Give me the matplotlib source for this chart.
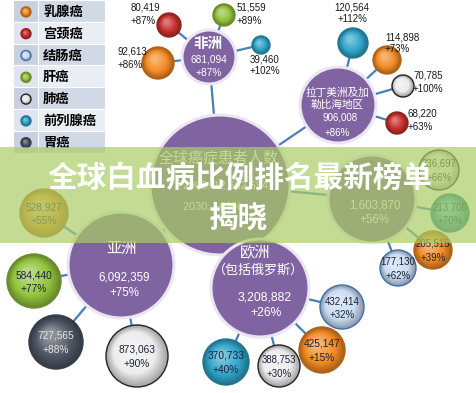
import numpy as np
import matplotlib
matplotlib.use("Agg")
from matplotlib import pyplot as plt
from matplotlib import font_manager
from matplotlib.patches import Circle, Rectangle
from matplotlib.colors import to_rgb

# ---- data ----
cancers = ['乳腺癌', '宫颈癌', '结肠癌', '肝癌', '肺癌', '前列腺癌', '胃癌']
cancer_colors = ['#f28a24', '#c8312e', '#c9dcf3', '#93c33c', '#ececec', '#2fa4c9', '#4d5563']
cancer_edges = [None, None, '#3f6faa', None, '#222222', None, None]

continents = ['亚洲', '欧洲', '北美洲', '拉丁美洲及加\n勒比海地区', '非洲']
cont_values = ['6,092,359', '3,208,882', '1,603,870', '906,008', '681,094']
cont_growth = ['+75%', '+26%', '+56%', '+86%', '+87%']

center_title = '全球癌症患者人数'
center_lines = ['2008: 12,662,554', '2030: +69%']

sat_parent = [0, 0, 0, 0, 1, 1, 1, 1, 2, 2, 2, 2, 3, 3, 3, 3, 4, 4, 4, 4]
sat_cancer = ['乳腺癌', '肝癌', '胃癌', '肺癌',
              '前列腺癌', '肺癌', '乳腺癌', '结肠癌',
              '肺癌', '前列腺癌', '乳腺癌', '结肠癌',
              '前列腺癌', '乳腺癌', '肺癌', '宫颈癌',
              '宫颈癌', '乳腺癌', '肝癌', '前列腺癌']
sat_values = ['528,927', '584,440', '727,565', '873,063',
              '370,733', '388,753', '425,147', '432,414',
              '236,697', '213,705', '205,515', '177,130',
              '120,564', '114,898', '70,785', '68,220',
              '80,419', '92,613', '51,559', '39,460']
sat_growth = ['+55%', '+77%', '+88%', '+90%',
              '+40%', '+30%', '+15%', '+32%',
              '+66%', '+70%', '+39%', '+62%',
              '+112%', '+73%', '+100%', '+63%',
              '+87%', '+86%', '+89%', '+102%']

title1 = '全球白血病比例排名最新榜单'
title2 = '揭晓'

# ---- layout (pixel space) ----
center_xy = (220, 185)
center_r = 70
cont_xy = [(121, 265), (260, 288), (372, 199), (338, 105), (209, 57)]
cont_r = [53, 49, 44, 38, 27]
sat_xy = [(44, 213), (34, 281), (56, 342), (137, 356),
          (226, 362), (279, 366), (322, 350), (342, 307),
          (439, 170), (450, 213), (433, 250), (398, 268),
          (353, 43), (387, 60), (403, 86), (397, 123),
          (169, 25), (158, 63), (224, 15), (261, 45)]
sat_r = [24, 27, 27, 31, 23, 21, 23, 22, 20, 19, 19, 18,
         15, 14, 11, 11, 12, 16, 11, 9]
# outside labels: (x, y of first line, ha); None = inside bubble
sat_label = [None] * 12 + [(352, 7, 'center'), (385, 37, 'left'), (413, 76, 'left'),
                           (408, 114, 'left'), (131, 8, 'left'), (118, 52, 'left'),
                           (237, 8, 'left'), (250, 59, 'left')]

names = {f.name for f in font_manager.fontManager.ttflist}
if 'Liberation Sans Narrow' in names:
    NUM = 'Liberation Sans Narrow'
    k = 1.0
else:
    NUM = 'Liberation Sans'
    k = 0.83
CJK = 'Noto Sans CJK SC'
plt.rcParams['font.family'] = [CJK, 'DejaVu Sans']

PURPLE = '#8064a2'
LINE = '#4a7dba'

fig = plt.figure(figsize=(4.76, 3.93), dpi=100)
ax = fig.add_axes([0, 0, 1, 1])
ax.set_xlim(0, 476)
ax.set_ylim(393, 0)
ax.axis('off')


def sphere(x, y, r, color, edge=None, z=3):
    base = np.array(to_rgb(color))
    dark = base * 0.72
    ax.add_patch(Circle((x, y), r, fc=dark, ec=edge if edge else dark, lw=1.0, zorder=z))
    n = 14
    for i in range(1, n):
        t = i / n
        rr = r * (1 - 0.8 * t) - 0.6
        cx = x - 0.22 * r * t
        cy = y - 0.28 * r * t
        if t < 0.35:
            c = dark + (base - dark) * (t / 0.35)
        else:
            c = base + (np.ones(3) - base) * (t - 0.35) * 0.6
        ax.add_patch(Circle((cx, cy), rr, fc=c, ec='none', zorder=z))


# connector lines
for (x, y) in cont_xy:
    ax.plot([center_xy[0], x], [center_xy[1], y], color=LINE, lw=1.6, zorder=1)
for i, p in enumerate(sat_parent):
    ax.plot([cont_xy[p][0], sat_xy[i][0]], [cont_xy[p][1], sat_xy[i][1]],
            color=LINE, lw=1.6, zorder=1)

# center circle
ax.add_patch(Circle(center_xy, center_r, fc=PURPLE, ec='#ece6f3', lw=2.2, zorder=2))
ax.text(219, 158, center_title, color='white', fontsize=10.8, ha='center', va='center', zorder=3)
for j, s in enumerate(center_lines):
    ax.text(183, 185 + 22 * j, s, color='white', fontsize=9.5 * k, family=[NUM, CJK],
            ha='left', va='center', zorder=3)

# continent circles
for i, (x, y) in enumerate(cont_xy):
    ax.add_patch(Circle((x, y), cont_r[i], fc=PURPLE, ec='#ece6f3', lw=2.2, zorder=2))

ax.text(122, 248, continents[0], color='white', fontsize=11, ha='center', va='center', zorder=3)
ax.text(124, 277, cont_values[0], color='white', fontsize=10 * k, family=NUM, ha='center', va='center', zorder=3)
ax.text(124, 293, cont_growth[0], color='white', fontsize=10 * k, family=NUM, ha='center', va='center', zorder=3)

ax.text(255, 253, continents[1], color='white', fontsize=11, ha='center', va='center', zorder=3)
ax.text(258, 270, '（包括俄罗斯）', color='white', fontsize=9.4, ha='center', va='center', zorder=3)
ax.text(265, 298, cont_values[1], color='white', fontsize=10.5 * k, family=NUM, ha='center', va='center', zorder=3)
ax.text(266, 313, cont_growth[1], color='white', fontsize=10.5 * k, family=NUM, ha='center', va='center', zorder=3)

# north america name sits under the title band in the reference, so only numbers are drawn
ax.text(375, 205, cont_values[2], color='white', fontsize=10 * k, family=NUM, ha='center', va='center', zorder=3)
ax.text(374, 220, cont_growth[2], color='white', fontsize=10 * k, family=NUM, ha='center', va='center', zorder=3)

ax.text(337, 99, continents[3], color='white', fontsize=7.7, ha='center', va='center',
        linespacing=1.25, zorder=3)
ax.text(340, 118, cont_values[3], color='white', fontsize=8.5 * k, family=NUM, ha='center', va='center', zorder=3)
ax.text(337, 133, cont_growth[3], color='white', fontsize=8.5 * k, family=NUM, ha='center', va='center', zorder=3)

ax.text(208, 43, continents[4], color='white', fontsize=10.5, weight='bold', ha='center', va='center', zorder=3)
ax.text(209, 59, cont_values[4], color='white', fontsize=8.8 * k, family=NUM, ha='center', va='center', zorder=3)
ax.text(209, 73, cont_growth[4], color='white', fontsize=8.8 * k, family=NUM, ha='center', va='center', zorder=3)

# satellite bubbles
for i, (x, y) in enumerate(sat_xy):
    ci = cancers.index(sat_cancer[i])
    sphere(x, y, sat_r[i], cancer_colors[ci], cancer_edges[ci])
    lab = sat_label[i]
    if lab is None:
        tc = '#e6e6e6' if sat_cancer[i] == '胃癌' else '#1b2335'
        fs = 8.8 if sat_r[i] > 22 else 8.4
        ax.text(x, y - 6, sat_values[i], color=tc, fontsize=fs * k, family=NUM,
                ha='center', va='center', zorder=4)
        ax.text(x, y + 8, sat_growth[i], color=tc, fontsize=fs * k, family=NUM,
                ha='center', va='center', zorder=4)
    else:
        lx, ly, ha = lab
        ax.text(lx, ly, sat_values[i], color='#1a1a1a', fontsize=8.5 * k, family=NUM,
                ha=ha, va='center', zorder=4)
        ax.text(lx, ly + 12.5, sat_growth[i], color='#1a1a1a', fontsize=8.5 * k, family=NUM,
                ha=ha, va='center', zorder=4)

# legend table
row_h = 21.8
for i, name in enumerate(cancers):
    y0 = i * row_h
    if i % 2 == 0:
        c_icon, c_text = '#c8d1e1', '#d2d9e6'
    else:
        c_icon, c_text = '#dfe4ee', '#e9edf4'
    ax.add_patch(Rectangle((13, y0), 25, row_h, fc=c_icon, ec='white', lw=0.8, zorder=2))
    ax.add_patch(Rectangle((38, y0), 67, row_h, fc=c_text, ec='white', lw=0.8, zorder=2))
    sphere(26, y0 + row_h / 2 + 1, 5, cancer_colors[i], cancer_edges[i], z=3)
    ax.text(43, y0 + row_h / 2 + 1, name, fontsize=9.5, weight='bold', color='black',
            ha='left', va='center', zorder=4)

# overlay band with title
ax.add_patch(Rectangle((0, 147), 476, 96, fc=(170 / 255, 205 / 255, 100 / 255), alpha=0.7,
                       ec='none', zorder=5))
ax.text(240, 178, title1, fontsize=21.3, weight='bold', color='white', ha='center',
        va='center', zorder=6)
ax.text(238, 217, title2, fontsize=21.3, weight='bold', color='white', ha='center',
        va='center', zorder=6)

fig.savefig('out.png', dpi=100)
